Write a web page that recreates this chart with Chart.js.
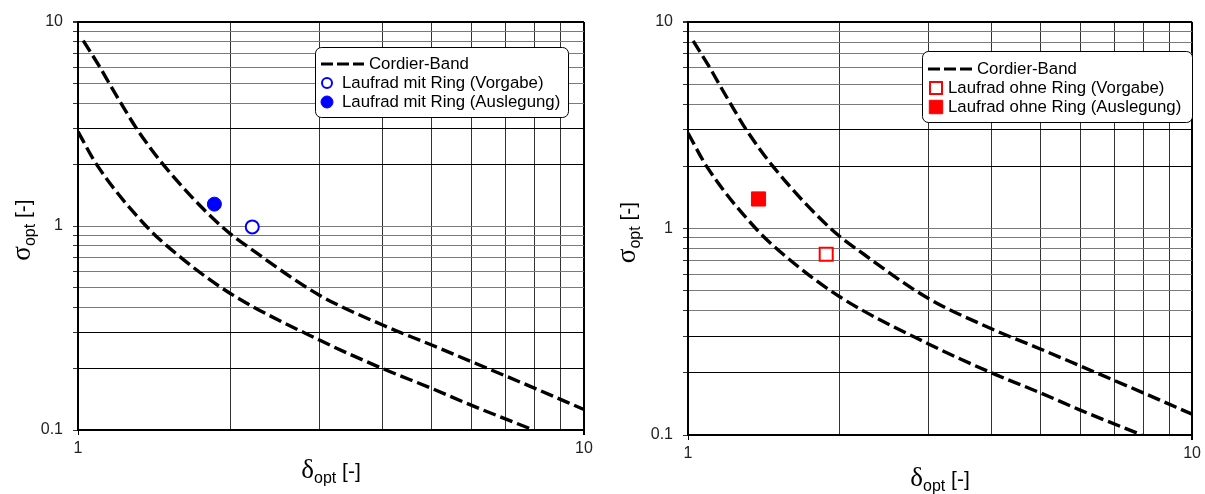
<!DOCTYPE html>
<html>
<head>
<meta charset="utf-8">
<script src="https://cdn.jsdelivr.net/npm/chart.js@4"></script>
<style>
  body { margin: 0; background: #fff; width: 1205px; height: 494px; position: relative; overflow: hidden; }
  .feld { position: absolute; top: 0; width: 600px; height: 494px; }
</style>
</head>
<body>
<div class="feld" style="left:0"><canvas id="links" width="600" height="494"></canvas></div>
<div class="feld" style="left:605px"><canvas id="rechts" width="600" height="494"></canvas></div>

<script>
//* Daten
const cordierText = "Cordier-Band";

// obere Grenze des Cordier-Bandes
const obenDelta = [1.024, 1.105, 1.153, 1.216, 1.306, 1.474, 1.918, 2.25, 3.0, 4.0, 5.0, 6.0, 8.0, 10.0];
const obenSigma = [8.1, 6.0, 5.0, 4.0, 3.0, 2.0, 1.0, 0.74, 0.458, 0.327, 0.261, 0.216, 0.16, 0.126];

// untere Grenze des Cordier-Bandes
const untenDelta = [1.0, 1.089, 1.363, 1.598, 2.0, 3.0, 4.0, 5.0, 6.0, 7.95];
const untenSigma = [2.9, 2.0, 1.0, 0.7, 0.467, 0.276, 0.2, 0.16, 0.132, 0.1];

// Laufrad mit Ring: Vorgabe, Auslegung
const namenLinks = ["Laufrad mit Ring (Vorgabe)", "Laufrad mit Ring (Auslegung)"];
const deltaLinks = [2.21, 1.86];
const sigmaLinks = [0.99, 1.28];

// Laufrad ohne Ring: Vorgabe, Auslegung
const namenRechts = ["Laufrad ohne Ring (Vorgabe)", "Laufrad ohne Ring (Auslegung)"];
const deltaRechts = [1.88, 1.38];
const sigmaRechts = [0.75, 1.39];

// Gitterlinien und beschriftete Achsenwerte
const xGitter = [1, 2, 3, 4, 5, 6, 7, 8, 9, 10];
const yGitter = [0.1, 0.2, 0.3, 0.4, 0.5, 0.6, 0.7, 0.8, 0.9, 1, 2, 3, 4, 5, 6, 7, 8, 9, 10];
const xBeschriftung = [1, 10];
const yBeschriftung = [0.1, 1, 10];

const schrift = '"Liberation Sans", Arial, sans-serif';
Chart.defaults.font.family = schrift;
Chart.defaults.color = "#222";

function paare(xs, ys) {
  return xs.map((x, i) => ({ x: x, y: ys[i] }));
}

function beschriftung(liste) {
  return (wert) => {
    for (let b of liste) {
      if (Math.abs(Math.log10(wert) - Math.log10(b)) < 1e-6) return String(b);
    }
    return "";
  };
}

function ziffer(wert) {
  const e = Math.pow(10, Math.floor(Math.log10(wert) + 1e-9));
  return Math.round(wert / e);
}

//* Datensätze für ein Diagramm
function datensaetze(namen, deltas, sigmas, farbe, form, radien, legRadien) {
  const band = {
    borderColor: "#000",
    borderWidth: 3.4,
    borderDash: [13, 5],
    pointRadius: 0,
    cubicInterpolationMode: "monotone",
    fill: false,
  };
  return [
    { ...band, label: cordierText, data: paare(obenDelta, obenSigma), legende: true },
    { ...band, label: cordierText, data: paare(untenDelta, untenSigma), legende: false },
    {
      label: namen[0],
      data: [{ x: deltas[0], y: sigmas[0] }],
      showLine: false,
      pointStyle: form,
      pointRadius: radien[0],
      pointBorderWidth: 2,
      pointBorderColor: farbe,
      pointBackgroundColor: "#fff",
      legende: true,
      legRadius: legRadien[0],
    },
    {
      label: namen[1],
      data: [{ x: deltas[1], y: sigmas[1] }],
      showLine: false,
      pointStyle: form,
      pointRadius: radien[1],
      pointBorderWidth: 1,
      pointBorderColor: farbe,
      pointBackgroundColor: farbe,
      legende: true,
      legRadius: legRadien[1],
    },
  ];
}

//* Legende im Diagramm
const kastenPlugin = {
  id: "kasten",
  afterDraw(chart, args, opt) {
    const ctx = chart.ctx;
    ctx.save();
    ctx.beginPath();
    ctx.roundRect(opt.x + 0.5, opt.y + 0.5, opt.b, opt.h, 6);
    ctx.fillStyle = "#fff";
    ctx.fill();
    ctx.lineWidth = 1;
    ctx.strokeStyle = "#000";
    ctx.stroke();

    let zy = opt.y + opt.ersteZeile;
    ctx.font = "16.8px " + schrift;
    ctx.textBaseline = "middle";
    for (let ds of chart.data.datasets) {
      if (!ds.legende) continue;
      let tx;
      if (ds.showLine === false) {
        const cx = opt.x + opt.punktMitte;
        const r = ds.legRadius;
        ctx.setLineDash([]);
        ctx.beginPath();
        if (ds.pointStyle === "rect") {
          const s = r * Math.SQRT1_2;
          ctx.rect(cx - s, zy - s, 2 * s, 2 * s);
        } else {
          ctx.arc(cx, zy, r, 0, Math.PI * 2);
        }
        ctx.fillStyle = ds.pointBackgroundColor;
        ctx.fill();
        ctx.lineWidth = ds.pointBorderWidth;
        ctx.strokeStyle = ds.pointBorderColor;
        ctx.stroke();
        tx = opt.x + opt.textPunkt;
      } else {
        ctx.beginPath();
        ctx.setLineDash([12, 4]);
        ctx.lineWidth = 3;
        ctx.strokeStyle = ds.borderColor;
        ctx.moveTo(opt.x + opt.linieVon, zy);
        ctx.lineTo(opt.x + opt.linieBis, zy);
        ctx.stroke();
        ctx.setLineDash([]);
        tx = opt.x + opt.textLinie;
      }
      ctx.fillStyle = "#000";
      ctx.fillText(ds.label, tx, zy);
      zy += opt.zeilenAbstand;
    }
    ctx.restore();
  },
};

//* Achsentitel mit Index (sigma_opt, delta_opt)
function titelBreite(ctx, zeichen) {
  ctx.font = "27px 'Liberation Serif', serif";
  const a = ctx.measureText(zeichen).width;
  ctx.font = "16px " + schrift;
  const b = ctx.measureText("opt").width;
  ctx.font = "21px " + schrift;
  const c = ctx.measureText(" [-]").width;
  return a + b + c;
}

function titelSchreiben(ctx, zeichen, x, grund) {
  ctx.fillStyle = "#000";
  ctx.textBaseline = "alphabetic";
  ctx.textAlign = "left";
  ctx.font = "27px 'Liberation Serif', serif";
  ctx.fillText(zeichen, x, grund);
  x += ctx.measureText(zeichen).width;
  ctx.font = "16px " + schrift;
  ctx.fillText("opt", x, grund + 5);
  x += ctx.measureText("opt").width;
  ctx.font = "21px " + schrift;
  ctx.fillText(" [-]", x, grund);
}

const titelPlugin = {
  id: "titel",
  afterDraw(chart, args, opt) {
    const ctx = chart.ctx;
    const a = chart.chartArea;
    ctx.save();
    const bx = titelBreite(ctx, "δ");
    titelSchreiben(ctx, "δ", (a.left + a.right) / 2 - bx / 2, a.bottom + opt.xAbstand);
    const by = titelBreite(ctx, "σ");
    ctx.translate(opt.yGrund, (a.top + a.bottom) / 2 + 4);
    ctx.rotate(-Math.PI / 2);
    titelSchreiben(ctx, "σ", -by / 2, 0);
    ctx.restore();
  },
};

//* Diagramm aufbauen
function diagramm(id, sets, rand, legende, xAbstand) {
  const config = {
    type: "line",
    data: { datasets: sets },
    options: {
      responsive: false,
      animation: false,
      events: [],
      layout: { padding: { top: 22, right: rand.rechts, left: 0, bottom: 0 } },
      plugins: {
        legend: { display: false },
        tooltip: { enabled: false },
        kasten: legende,
        titel: { xAbstand: xAbstand, yGrund: 30 },
      },
      scales: {
        x: {
          type: "logarithmic",
          min: 1,
          max: 10,
          afterBuildTicks: (s) => { s.ticks = xGitter.map((v) => ({ value: v })); },
          afterFit: (s) => { s.height = rand.xHoehe; },
          border: { color: "#000", width: 2 },
          grid: {
            color: (c) => (c.tick && c.tick.value > 9.99 ? "#000" : "#333"),
            lineWidth: (c) => (c.tick && c.tick.value > 9.99 ? 2 : 1),
            tickColor: (c) => (c.tick && beschriftung(xBeschriftung)(c.tick.value) !== "" ? "#000" : "rgba(0,0,0,0)"),
            tickLength: 5,
          },
          ticks: {
            autoSkip: false,
            maxRotation: 0,
            padding: 4,
            font: { size: 16 },
            callback: beschriftung(xBeschriftung),
          },
        },
        y: {
          type: "logarithmic",
          min: 0.1,
          max: 10,
          afterBuildTicks: (s) => { s.ticks = yGitter.map((v) => ({ value: v })); },
          afterFit: (s) => { s.width = rand.yBreite; },
          border: { color: "#000", width: 2 },
          grid: {
            color: (c) => {
              if (!c.tick) return "#808080";
              const z = ziffer(c.tick.value);
              if (c.tick.value > 9.99 || z === 2 || z === 3) return "#000";
              return "#7a7a7a";
            },
            lineWidth: (c) => (c.tick && c.tick.value > 9.99 ? 2 : 1),
            tickColor: "#333",
            tickLength: 5,
          },
          ticks: {
            autoSkip: false,
            padding: 10,
            font: { size: 16 },
            callback: beschriftung(yBeschriftung),
          },
        },
      },
    },
    plugins: [kastenPlugin, titelPlugin],
  };
  return new Chart(document.getElementById(id), config);
}

diagramm(
  "links",
  datensaetze(namenLinks, deltaLinks, sigmaLinks, "#0000ff", "circle", [6.5, 7], [5, 6]),
  { rechts: 16, yBreite: 78, xHoehe: 64 },
  { x: 315, y: 47, b: 253, h: 70, ersteZeile: 17, zeilenAbstand: 19,
    linieVon: 6, linieBis: 49, punktMitte: 12, textLinie: 54, textPunkt: 27 },
  48
);

diagramm(
  "rechts",
  datensaetze(namenRechts, deltaRechts, sigmaRechts, "#ff0000", "rect", [9.2, 10], [8.5, 9.5]),
  { rechts: 11, yBreite: 83, xHoehe: 59 },
  { x: 317, y: 51, b: 270, h: 71, ersteZeile: 18, zeilenAbstand: 19,
    linieVon: 6, linieBis: 50, punktMitte: 14, textLinie: 55, textPunkt: 26 },
  51
);
</script>
</body>
</html>
